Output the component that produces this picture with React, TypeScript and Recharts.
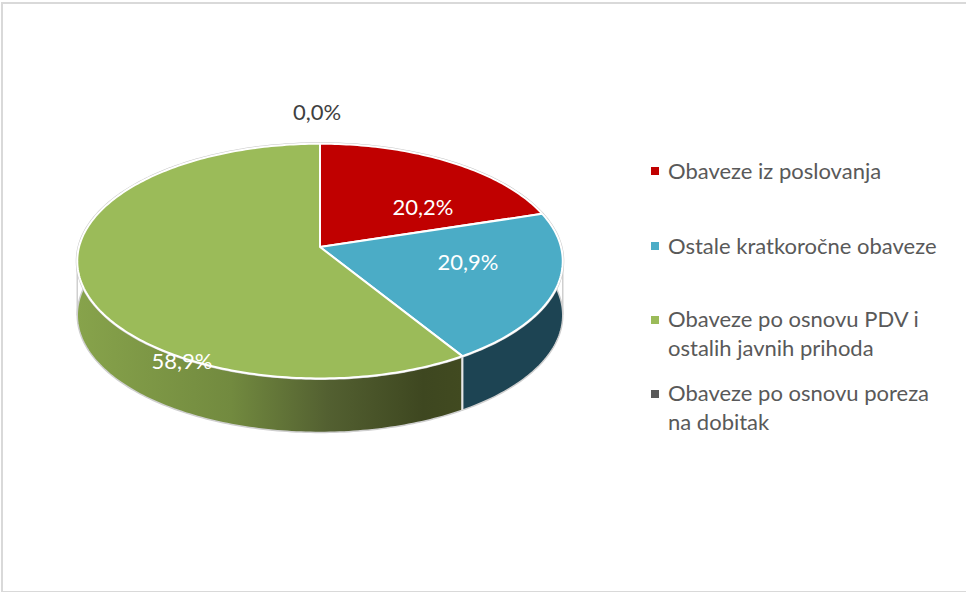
import { Legend, Pie, PieChart } from "recharts";

const names = [
  "Obaveze iz poslovanja",
  "Ostale kratkoročne obaveze",
  "Obaveze po osnovu PDV i ostalih javnih prihoda",
  "Obaveze po osnovu poreza na dobitak",
];
const values = [20.2, 20.9, 58.9, 0.0];
const valueLabels = ["20,2%", "20,9%", "58,9%", "0,0%"];
const colors = ["#C00000", "#4BACC6", "#9BBB59", "#595959"];

const table = names.map((name, i) => ({
  name,
  value: values[i],
  label: valueLabels[i],
  fill: colors[i],
}));

const FONT = "Lato, 'Open Sans', sans-serif";
const TILT = 0.48;
const PERSPECTIVE = 0.12;
const DEPTH = 54;

// label centres, measured from the pie's apex
const labelOffsets = [
  [103, -41],
  [148, 14],
  [-138, 113],
  [-3, -136],
];
const legendTops = [156, 231, 304, 378];

function rimPoint(cx: number, cy: number, r: number, deg: number) {
  const a = (deg * Math.PI) / 180;
  const v = -Math.cos(a);
  const w = 1 - PERSPECTIVE * v;
  return [cx + (r * Math.sin(a)) / w, cy + (r * TILT * v) / w];
}

function rim(cx: number, cy: number, r: number, start: number, end: number) {
  const pts: number[][] = [];
  const from = 90 - start;
  const to = 90 - end;
  for (let d = from; d < to; d += 1) pts.push(rimPoint(cx, cy, r, d));
  pts.push(rimPoint(cx, cy, r, to));
  return pts;
}

const toPath = (pts: number[][]) => pts.map((p) => `${p[0].toFixed(2)} ${p[1].toFixed(2)}`).join(" L ");

function TiltedSector(props: any) {
  const { cx, cy, outerRadius, startAngle, endAngle, fill } = props;
  if (Math.abs(endAngle - startAngle) < 0.01) return null;
  const top = rim(cx, cy, outerRadius, startAngle, endAngle);
  const lower = top.map((p) => [p[0], p[1] + DEPTH]);
  const wall = fill === colors[2] ? "url(#greenWall)" : fill === colors[1] ? "#1D4453" : "#7A0000";
  const first = top[0];
  const leftmost = top.reduce((a, b) => (b[0] < a[0] ? b : a));
  const rightmost = top.reduce((a, b) => (b[0] > a[0] ? b : a));
  const edge = (p: number[]) => `M ${p[0]} ${p[1]} L ${p[0]} ${p[1] + DEPTH}`;
  return (
    <g>
      <path d={`M ${toPath(top)} L ${toPath([...lower].reverse())} Z`} fill={wall} />
      <path d={`M ${toPath(lower)}`} fill="none" stroke="#CFCFCF" strokeWidth={1.5} />
      <path d={`${edge(leftmost)} ${edge(rightmost)}`} stroke="#CFCFCF" strokeWidth={1.5} />
      <path d={edge(first)} stroke="#E8E8E8" strokeWidth={2} />
      <path d={`M ${toPath(top)}`} fill="none" stroke="#C8C8C8" strokeWidth={3} />
      <path d={`M ${cx} ${cy} L ${toPath(top)} Z`} fill={fill} stroke="#FFFFFF" strokeWidth={2} strokeLinejoin="round" />
    </g>
  );
}

function ValueLabel(props: any) {
  const { cx, cy, index } = props;
  const [dx, dy] = labelOffsets[index];
  return (
    <text
      x={cx + dx}
      y={cy + dy}
      textAnchor="middle"
      dominantBaseline="central"
      fontFamily={FONT}
      fontSize={22}
      fill={index === 3 ? "#404040" : "#FFFFFF"}
    >
      {valueLabels[index]}
    </text>
  );
}

function LegendList(props: any) {
  return (
    <div style={{ position: "relative", fontFamily: FONT, fontSize: 22, lineHeight: "29px", color: "#595959" }}>
      {(props.payload ?? []).map((entry: any, i: number) => (
        <div key={entry.value} style={{ position: "absolute", top: legendTops[i], left: 17, width: 282 }}>
          <span
            style={{
              position: "absolute",
              left: -17,
              top: i < 2 ? 11 : 12,
              width: 8,
              height: 8,
              background: entry.color,
            }}
          />
          {entry.value}
        </div>
      ))}
    </div>
  );
}

export default function App() {
  return (
    <div style={{ position: "absolute", left: 0, top: 0, width: 966, height: 592, background: "#FFFFFF", overflow: "hidden" }}>
      <div
        style={{
          position: "absolute",
          left: 1,
          top: 2,
          width: 970,
          height: 587,
          borderLeft: "2px solid #D9D9D9",
          borderTop: "2px solid #D9D9D9",
          borderBottom: "2px solid #D9D9D9",
        }}
      />
      <PieChart width={966} height={592} margin={{ top: 0, right: 0, bottom: 0, left: 0 }} style={{ position: "absolute" }}>
        <defs>
          <linearGradient id="greenWall" gradientUnits="userSpaceOnUse" x1={77} y1={0} x2={462} y2={0}>
            <stop offset="0" stopColor="#87A34B" />
            <stop offset="0.4" stopColor="#728A3F" />
            <stop offset="0.65" stopColor="#536031" />
            <stop offset="0.9" stopColor="#3E4720" />
            <stop offset="1" stopColor="#414A20" />
          </linearGradient>
        </defs>
        <Pie
          data={table}
          dataKey="value"
          nameKey="name"
          cx={320}
          cy={247}
          outerRadius={241}
          startAngle={90}
          endAngle={-270}
          stroke="none"
          shape={TiltedSector}
          label={ValueLabel}
          labelLine={false}
          isAnimationActive={false}
        />
        <Legend
          layout="vertical"
          content={LegendList}
          itemSorter={null}
          wrapperStyle={{ position: "absolute", left: 651, top: 0, width: 315, height: 592 }}
        />
      </PieChart>
    </div>
  );
}
